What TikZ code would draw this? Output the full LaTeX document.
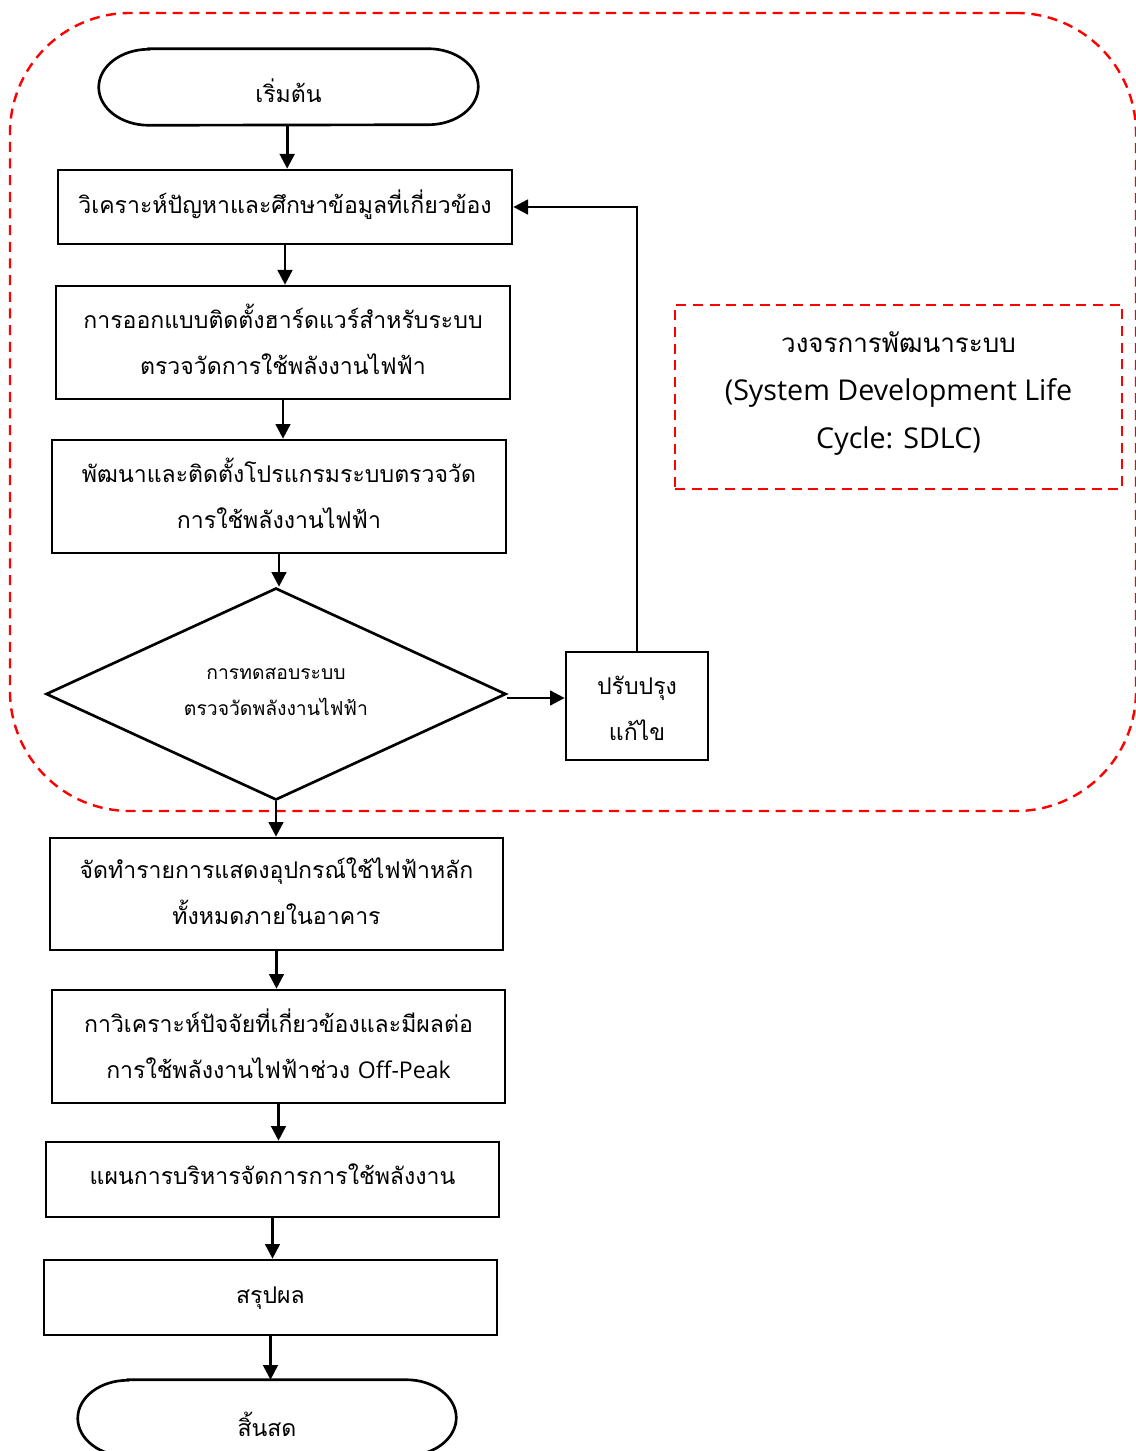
\documentclass[tikz,border=0pt]{standalone}
\usepackage{fontspec}
\setmainfont[Script=Thai]{Loma}
\newfontfamily\latinfont{Open Sans}
\usetikzlibrary{shapes.geometric,fit,arrows.meta}
\newcommand\mainsz{\fontsize{17.3}{34.5}\selectfont}
\newcommand\smallsz{\fontsize{14.5}{27}\selectfont}
\newcommand\bigsz{\fontsize{19.5}{36}\selectfont}
\newcommand\lat[1]{{\latinfont #1}}
\newcommand\biglat[1]{{\latinfont\fontsize{21.5}{36}\selectfont #1}}
\newcommand\lowtxt[2][6pt]{\raisebox{-#1}[\height][\depth]{\begin{tabular}{@{}c@{}}#2\end{tabular}}}
\newcommand\stadiumoutline[1]{\draw[line width=2pt] ([xshift=37.5pt]#1.north west) -- ([xshift=-37.5pt]#1.north east) arc[start angle=90,end angle=-90,x radius=37.5pt,y radius=28.5pt] -- ([xshift=37.5pt]#1.south west) arc[start angle=270,end angle=90,x radius=37.5pt,y radius=28.5pt] -- cycle;}
\begin{document}
\begin{tikzpicture}[x=0.75pt,y=-0.75pt,
  box/.style={draw,line width=2pt,inner sep=0pt,font=\mainsz},
  term/.style={draw=none,inner sep=0pt,font=\mainsz},
  arr/.style={line width=2pt,-{Triangle[length=11pt,width=11pt]}},
  reddash/.style={draw=red,line width=1.8pt,dash pattern=on 7.5pt off 5pt}]
\useasboundingbox (0,0) rectangle (1135,1451);
% cycle frame
\node[reddash,rounded corners=90pt,inner sep=0pt,fit={(10,13)(1136,811)}] (cyc) {};
\node[reddash,inner sep=0pt,font=\bigsz,fit={(675,305)(1122,489)}] (sdlc) {\lowtxt[25pt]{วงจรการพัฒนาระบบ\\\biglat{(System Development Life}\\\biglat{Cycle: SDLC)}}};
% nodes
\node[term,fit={(99,49)(478,125)}] (start) {\lowtxt[15.5pt]{เริ่มต้น}};
\stadiumoutline{start}
\node[box,fit={(58,170)(512,244)}] (b1) {\lowtxt[9pt]{วิเคราะห์ปัญหาและศึกษาข้อมูลที่เกี่ยวข้อง}};
\node[box,fit={(56,286)(510,399)}] (b2) {\lowtxt[19pt]{การออกแบบติดตั้งฮาร์ดแวร์สำหรับระบบ\\ตรวจวัดการใช้พลังงานไฟฟ้า}};
\node[box,fit={(52,440)(506,553)}] (b3) {\lowtxt[19.5pt]{พัฒนาและติดตั้งโปรแกรมระบบตรวจวัด\\การใช้พลังงานไฟฟ้า}};
\node[diamond,draw,line width=2pt,inner sep=0pt,aspect=2.17,minimum width=345pt,minimum height=159pt,font=\smallsz] (test) at (276,694) {\lowtxt[-2.5pt]{การทดสอบระบบ\\ตรวจวัดพลังงานไฟฟ้า}};
\node[box,fit={(566,652)(708,760)}] (fix) {\lowtxt[21pt]{ปรับปรุง\\แก้ไข}};
\node[box,fit={(50,838)(503,950)}] (b4) {\lowtxt[18pt]{จัดทำรายการแสดงอุปกรณ์ใช้ไฟฟ้าหลัก\\ทั้งหมดภายในอาคาร}};
\node[box,fit={(52,990)(505,1103)}] (b5) {\lowtxt[19.5pt]{กาวิเคราะห์ปัจจัยที่เกี่ยวข้องและมีผลต่อ\\การใช้พลังงานไฟฟ้าช่วง \lat{Off-Peak}}};
\node[box,fit={(46,1142)(499,1217)}] (b6) {\lowtxt[8pt]{แผนการบริหารจัดการการใช้พลังงาน}};
\node[box,fit={(44,1260)(497,1335)}] (b7) {\lowtxt[8pt]{สรุปผล}};
\node[term,fit={(78,1380)(456,1456)}] (end) {};
\node[font=\mainsz,inner sep=0pt] (endtxt) at (267,1424) {สิ้นสด};
\stadiumoutline{end}
% connectors
\draw[arr] ([xshift=-1pt]start.south) -- ([xshift=-1pt]start.south |- b1.north);
\draw[arr] (b1.south) -- (b1.south |- b2.north);
\draw[arr] (b2.south) -- (b2.south |- b3.north);
\draw[arr] (b3.south) -- (b3.south |- test.north);
\draw[arr] (test.south) -- (test.south |- b4.north);
\draw[arr] (b4.south) -- (b4.south |- b5.north);
\draw[arr] (b5.south) -- (b5.south |- b6.north);
\draw[arr] (b6.south) -- (b6.south |- b7.north);
\draw[arr] (b7.south) -- (b7.south |- end.north);
\draw[arr] ([yshift=-3pt]test.east) -- ([yshift=-3pt]test.east -| fix.west);
\draw[arr] (fix.north) |- (b1.east);
\end{tikzpicture}
\end{document}
